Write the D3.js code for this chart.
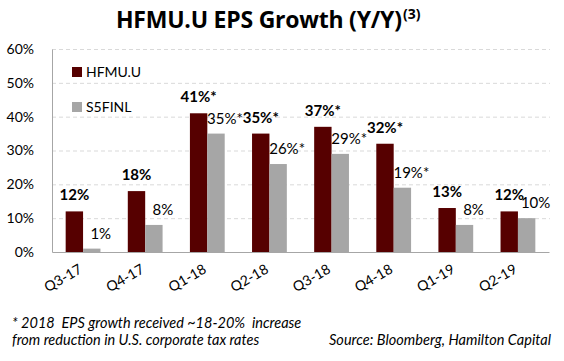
<!DOCTYPE html>
<html>
<head>
<meta charset="utf-8">
<script src="https://cdn.jsdelivr.net/npm/d3@7"></script>
<style>
  body { margin: 0; background: #fff; }
  svg { display: block; font-family: Lato, "Open Sans", sans-serif; }
</style>
</head>
<body>
<div id="chart"></div>
<script>
// data
const quarters = ['Q3-17', 'Q4-17', 'Q1-18', 'Q2-18', 'Q3-18', 'Q4-18', 'Q1-19', 'Q2-19'];
const seriesNames = ['HFMU.U', 'S5FINL'];
const hfmu = [12, 18, 41, 35, 37, 32, 13, 12];
const s5finl = [1, 8, 35, 26, 29, 19, 8, 10];
const hfmuLabels = ['12%', '18%', '41%*', '35%*', '37%*', '32%*', '13%', '12%'];
const s5finlLabels = ['1%', '8%', '35%*', '26%*', '29%*', '19%*', '8%', '10%'];
const yTicks = [0, 10, 20, 30, 40, 50, 60];

const width = 564, height = 361;
const margin = { top: 49, right: 15, bottom: 109, left: 52 };
const colors = { 'HFMU.U': '#560000', 'S5FINL': '#a6a6a6' };

const svg = d3.select('#chart').append('svg')
  .attr('width', width)
  .attr('height', height);

const x0 = d3.scaleBand()
  .domain(quarters)
  .range([margin.left, width - margin.right])
  .paddingInner(0.44)
  .paddingOuter(0.22);

const x1 = d3.scaleBand()
  .domain(seriesNames)
  .range([0, x0.bandwidth()]);

const y = d3.scaleLinear()
  .domain([0, 60])
  .range([height - margin.bottom, margin.top]);

// title
const title = svg.append('text')
  .attr('x', 116)
  .attr('y', 28)
  .attr('font-family', '"Open Sans", sans-serif')
  .attr('font-size', 23)
  .attr('font-weight', 'bold')
  .attr('fill', '#000');
title.append('tspan')
  .attr('textLength', 286)
  .attr('lengthAdjust', 'spacing')
  .text('HFMU.U EPS Growth (Y/Y)');
title.append('tspan').attr('x', 403).attr('font-size', 14).attr('dy', -9).text('(3)');

// gridlines
svg.append('g')
  .selectAll('line')
  .data(yTicks.filter(d => d > 0))
  .join('line')
  .attr('x1', margin.left)
  .attr('x2', width - margin.right + 1)
  .attr('y1', d => y(d) + 0.5)
  .attr('y2', d => y(d) + 0.5)
  .attr('stroke', '#d9d9d9')
  .attr('stroke-dasharray', '4,3');

// y axis
const yAxis = svg.append('g')
  .attr('transform', `translate(${margin.left},0)`)
  .call(d3.axisLeft(y).tickValues(yTicks).tickSize(0).tickPadding(18).tickFormat(d => d + '%'));
yAxis.select('.domain').attr('stroke', '#a6a6a6');
yAxis.selectAll('text')
  .attr('font-size', 14)
  .attr('font-family', 'Lato, sans-serif')
  .attr('fill', '#000');

// bars
const series = [
  { name: 'HFMU.U', values: hfmu, labels: hfmuLabels },
  { name: 'S5FINL', values: s5finl, labels: s5finlLabels }
];

series.forEach(s => {
  const g = svg.append('g');
  g.selectAll('rect')
    .data(quarters)
    .join('rect')
    .attr('x', (q) => x0(q) + x1(s.name))
    .attr('y', (q, i) => y(s.values[i]))
    .attr('width', x1.bandwidth())
    .attr('height', (q, i) => y(0) - y(s.values[i]))
    .attr('fill', colors[s.name]);

  g.selectAll('text')
    .data(quarters)
    .join('text')
    .attr('x', (q) => x0(q) + x1(s.name) + x1.bandwidth() / 2 + (s.name === 'S5FINL' ? 9 : 0))
    .attr('y', (q, i) => y(s.values[i]) - (s.name === 'S5FINL' ? 10 : 11))
    .attr('text-anchor', 'middle')
    .attr('font-size', 15)
    .attr('font-weight', s.name === 'HFMU.U' ? 'bold' : 'normal')
    .attr('fill', '#000')
    .text((q, i) => s.labels[i]);
});

// x axis
const xAxis = svg.append('g')
  .attr('transform', `translate(0,${y(0)})`)
  .call(d3.axisBottom(x0).tickSize(0).tickPadding(0));
xAxis.select('.domain').attr('stroke', '#a6a6a6');
xAxis.selectAll('text')
  .attr('font-size', 14)
  .attr('font-family', 'Lato, sans-serif')
  .attr('fill', '#000')
  .attr('text-anchor', 'end')
  .attr('dy', 0)
  .attr('transform', 'translate(0,20) rotate(-30)');

// legend
const legend = svg.append('g');
seriesNames.forEach((name, i) => {
  const ly = 67 + i * 35;
  legend.append('rect')
    .attr('x', 72).attr('y', ly)
    .attr('width', 10).attr('height', 10)
    .attr('fill', colors[name]);
  legend.append('text')
    .attr('x', 86).attr('y', ly + 10)
    .attr('font-size', 14)
    .attr('fill', '#000')
    .text(name);
});

// footnotes
const foot = svg.append('g')
  .attr('font-style', 'italic')
  .attr('font-size', 14.5)
  .attr('fill', '#000');
foot.append('text').attr('x', 12).attr('y', 328)
  .attr('xml:space', 'preserve')
  .text('* 2018  EPS growth received ~18-20%  increase');
foot.append('text').attr('x', 12).attr('y', 345)
  .text('from reduction in U.S. corporate tax rates');
foot.append('text').attr('x', 329).attr('y', 345)
  .attr('textLength', 222)
  .attr('lengthAdjust', 'spacing')
  .text('Source: Bloomberg, Hamilton Capital');
</script>
</body>
</html>
